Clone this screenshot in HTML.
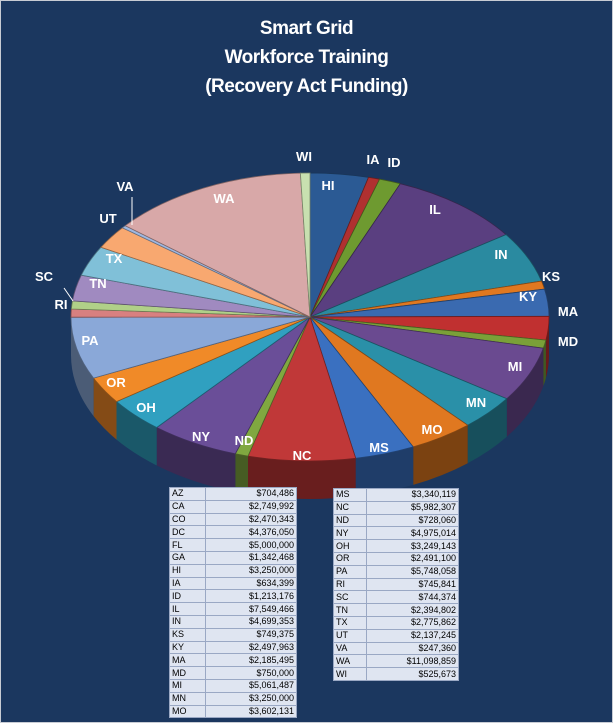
<!DOCTYPE html>
<html><head><meta charset="utf-8"><style>
html,body{margin:0;padding:0;background:#fff}
#wrap{position:relative;width:611px;height:721px;border:1px solid #c8ccd4;background:#1b375f;overflow:hidden;font-family:"Liberation Sans",sans-serif}
.t{position:absolute;left:0;width:611px;text-align:center;color:#fff;font-weight:bold;font-size:19px;letter-spacing:-0.5px}
table{position:absolute;border-collapse:collapse;font-size:9px;background:#dfe5f1;color:#000}
td{border:1px solid #9aa8c4;height:11.8px;padding:0 2px;line-height:11px}
td.v{text-align:right}
</style></head><body><div id="wrap">
<div class="t" style="top:17px">Smart Grid</div>
<div class="t" style="top:46px">Workforce Training</div>
<div class="t" style="top:75px">(Recovery Act Funding)</div>
<svg id="s" width="611" height="721" style="position:absolute;left:0;top:0"></svg>
<table style="left:168px;top:486px;width:128px">
<tr><td>AZ</td><td class="v">$704,486</td></tr><tr><td>CA</td><td class="v">$2,749,992</td></tr><tr><td>CO</td><td class="v">$2,470,343</td></tr><tr><td>DC</td><td class="v">$4,376,050</td></tr><tr><td>FL</td><td class="v">$5,000,000</td></tr><tr><td>GA</td><td class="v">$1,342,468</td></tr><tr><td>HI</td><td class="v">$3,250,000</td></tr><tr><td>IA</td><td class="v">$634,399</td></tr><tr><td>ID</td><td class="v">$1,213,176</td></tr><tr><td>IL</td><td class="v">$7,549,466</td></tr><tr><td>IN</td><td class="v">$4,699,353</td></tr><tr><td>KS</td><td class="v">$749,375</td></tr><tr><td>KY</td><td class="v">$2,497,963</td></tr><tr><td>MA</td><td class="v">$2,185,495</td></tr><tr><td>MD</td><td class="v">$750,000</td></tr><tr><td>MI</td><td class="v">$5,061,487</td></tr><tr><td>MN</td><td class="v">$3,250,000</td></tr><tr><td>MO</td><td class="v">$3,602,131</td></tr>
</table>
<table style="left:332px;top:487px;width:126px">
<tr><td>MS</td><td class="v">$3,340,119</td></tr><tr><td>NC</td><td class="v">$5,982,307</td></tr><tr><td>ND</td><td class="v">$728,060</td></tr><tr><td>NY</td><td class="v">$4,975,014</td></tr><tr><td>OH</td><td class="v">$3,249,143</td></tr><tr><td>OR</td><td class="v">$2,491,100</td></tr><tr><td>PA</td><td class="v">$5,748,058</td></tr><tr><td>RI</td><td class="v">$745,841</td></tr><tr><td>SC</td><td class="v">$744,374</td></tr><tr><td>TN</td><td class="v">$2,394,802</td></tr><tr><td>TX</td><td class="v">$2,775,862</td></tr><tr><td>UT</td><td class="v">$2,137,245</td></tr><tr><td>VA</td><td class="v">$247,360</td></tr><tr><td>WA</td><td class="v">$11,098,859</td></tr><tr><td>WI</td><td class="v">$525,673</td></tr>
</table>
</div>
<script>
(function(){
var d=[["HI",3.25,"#2b5a94",[327,189]],["IA",.634,"#b03030",[372,163]],["ID",1.213,"#6e9a30",[393,166]],["IL",7.549,"#5a3f80",[434,213]],["IN",4.699,"#2a8aa0",[500,258]],["KS",.749,"#e07820",[550,280]],["KY",2.498,"#3a6ab0",[527,300]],["MA",2.185,"#c03030",[567,315]],["MD",.75,"#7aa038",[567,345]],["MI",5.061,"#6a4a90",[514,370]],["MN",3.25,"#2a90a8",[475,406]],["MO",3.602,"#e07820",[431,433]],["MS",3.34,"#3a70c0",[378,451]],["NC",5.982,"#c03838",[301,459]],["ND",.728,"#80a840",[243,444]],["NY",4.975,"#6a4e98",[200,440]],["OH",3.249,"#30a0c0",[145,411]],["OR",2.491,"#f08a28",[115,386]],["PA",5.748,"#8aa8d8",[89,344]],["RI",.746,"#d88080",[60,308]],["SC",.744,"#b0d088",[43,280]],["TN",2.395,"#a08ac0",[97,287]],["TX",2.776,"#80c0d8",[113,262]],["UT",2.137,"#f8a870",[107,222]],["VA",.247,"#a0b8e0",[124,190]],["WA",11.099,"#d8a8a8",[223,202]],["WI",.526,"#c8e0b0",[303,160]]];
var cx=309,cy=316,rx=239,ry=144,dep=38,tot=0;d.forEach(function(e){tot+=e[1]});
function dk(c,f){var n=parseInt(c.slice(1),16);var r=(n>>16)*f|0,g=((n>>8)&255)*f|0,b=(n&255)*f|0;return "rgb("+r+","+g+","+b+")"}
var sideS="",topS="",labS="",a=-Math.PI/2;
function P(t,dy){return (cx+rx*Math.cos(t)).toFixed(1)+","+(cy+ry*Math.sin(t)+(dy||0)).toFixed(1)}
d.forEach(function(e){var b=a+e[1]/tot*2*Math.PI;
 var s0=Math.max(a,0),s1=Math.min(b,Math.PI);
 if(s1>s0){var p="M"+P(s0)+" A"+rx+","+ry+" 0 0 1 "+P(s1)+" L"+P(s1,dep)+" A"+rx+","+ry+" 0 0 0 "+P(s0,dep)+"Z";sideS+='<path d="'+p+'" fill="'+dk(e[2],0.55)+'"/>';}
 topS+='<path d="M'+cx+','+cy+' L'+P(a)+' A'+rx+','+ry+' 0 '+((b-a)>Math.PI?1:0)+' 1 '+P(b)+'Z" fill="'+e[2]+'" stroke="'+dk(e[2],0.6)+'" stroke-width="0.8"/>';
 labS+='<text x="'+e[3][0]+'" y="'+e[3][1]+'" fill="#fff" font-size="13" font-weight="bold" text-anchor="middle" font-family="Liberation Sans,sans-serif">'+e[0]+'</text>';
 a=b;});
labS+='<polyline points="63,287 72,300" stroke="#fff" fill="none"/><polyline points="131,196 131,224" stroke="#fff" fill="none"/>';
document.getElementById("s").innerHTML=sideS+topS+labS;
})();
</script>
</body></html>
